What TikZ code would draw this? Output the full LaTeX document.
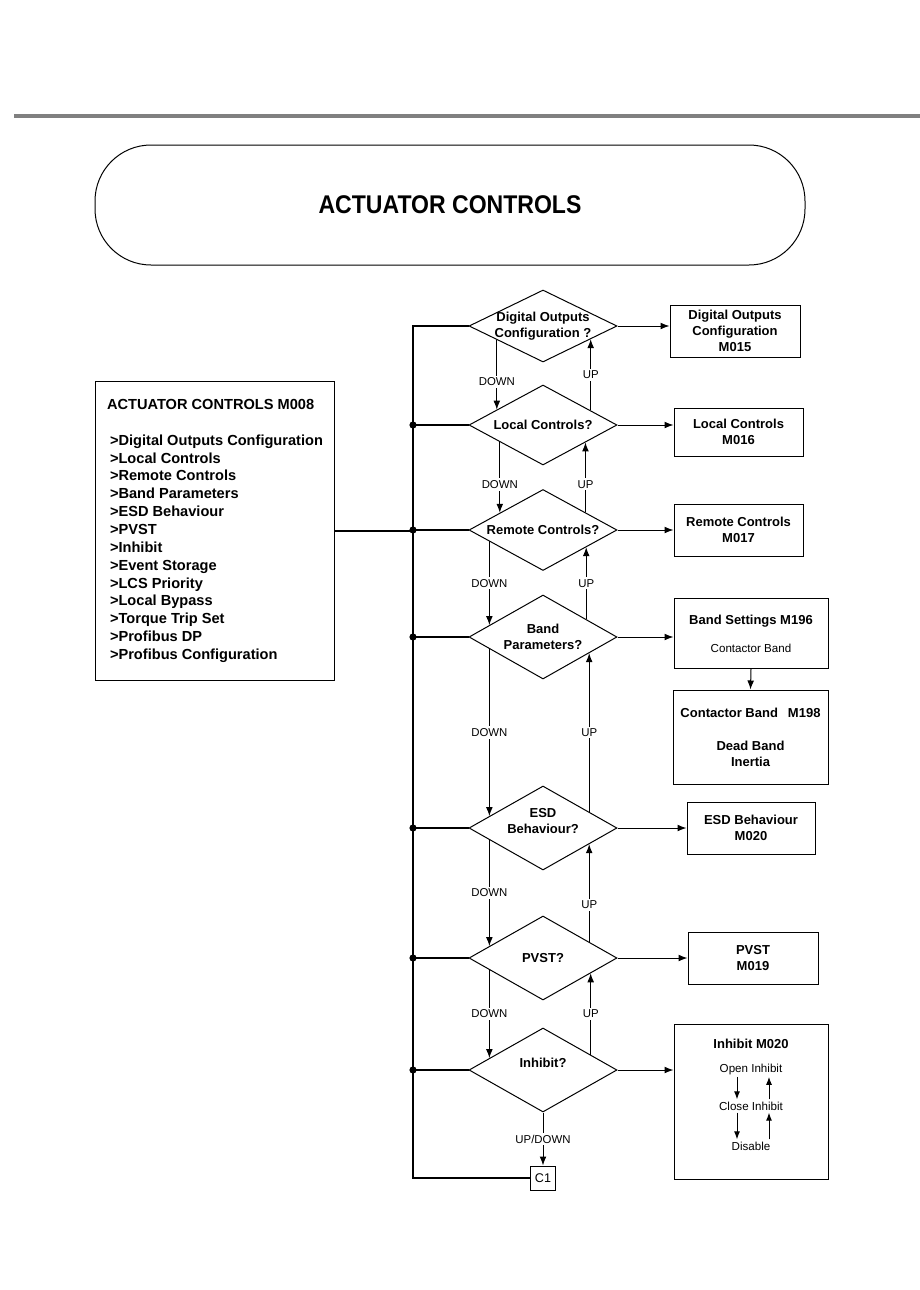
\documentclass[tikz,border=0pt]{standalone}
\usepackage{fontspec}
\setmainfont{Liberation Sans}
\usepackage{tikz, graphicx}
\usetikzlibrary{arrows.meta, shapes, calc}
\tikzstyle{line} = [draw, line width=0.5pt, -{Latex[length=4.5pt, width=3.4pt]}]

\begin{document}
\begin{tikzpicture}[x=0.5pt, y=-0.5pt, >={Latex[length=4pt, width=3pt]},
		decision/.style={draw, shape=diamond, inner sep=0pt, minimum width=74pt, minimum height=42pt, line width=0.5pt},
		dtext/.style={font=\fontsize{6.5}{8}\selectfont\bfseries, align=center},
		outbox/.style={draw, line width=0.5pt, align=center, inner sep=0pt, font=\fontsize{6.5}{8}\selectfont\bfseries},
		stext/.style={inner sep=1pt, font=\fontsize{5.8}{7}\selectfont},
		lbl/.style={fill=white, inner sep=1pt, font=\fontsize{5.7}{7}\selectfont},
		bus/.style={line width=0.8pt}]
	\useasboundingbox (0,0) rectangle (920,1290);
	\draw[line width=2pt, color=gray] (14,116) -- (920,116);
	\node[draw, line width=0.5pt, rounded corners=28pt, minimum width=355pt, minimum height=60pt] (title) at (450,205)
		{\scalebox{0.9}[1]{\fontsize{12.8}{14}\selectfont\bfseries ACTUATOR CONTROLS}};
	% Menue links
	\node[draw, line width=0.5pt, anchor=north west, minimum width=119.5pt, minimum height=149.5pt, align=left,
		font=\fontsize{7.3}{8.93}\selectfont\bfseries] (menu) at (95,381)
		{ACTUATOR CONTROLS M008\\[8.93pt]
		\hspace*{1.5pt}>Digital Outputs Configuration\\
		\hspace*{1.5pt}>Local Controls\\
		\hspace*{1.5pt}>Remote Controls\\
		\hspace*{1.5pt}>Band Parameters\\
		\hspace*{1.5pt}>ESD Behaviour\\
		\hspace*{1.5pt}>PVST\\
		\hspace*{1.5pt}>Inhibit\\
		\hspace*{1.5pt}>Event Storage\\
		\hspace*{1.5pt}>LCS Priority\\
		\hspace*{1.5pt}>Local Bypass\\
		\hspace*{1.5pt}>Torque Trip Set\\
		\hspace*{1.5pt}>Profibus DP\\
		\hspace*{1.5pt}>Profibus Configuration};
	% Abfragen
	\node[decision, minimum height=36pt, label={[dtext]center:{Digital Outputs\\Configuration ?}}] (d1) at (543,326) {};
	\node[decision, minimum height=40pt, label={[dtext]center:{Local Controls?}}] (d2) at (543,425) {};
	\node[decision, minimum height=40.5pt, label={[dtext]center:{Remote Controls?}}] (d3) at (543,530) {};
	\node[decision, label={[dtext]center:{Band\\Parameters?}}] (d4) at (543,637) {};
	\node[decision, label={[dtext, yshift=3.5pt]center:{ESD\\Behaviour?}}] (d5) at (543,828) {};
	\node[decision, label={[dtext]center:{PVST?}}] (d6) at (543,958) {};
	\node[decision, label={[dtext, yshift=3.5pt]center:{Inhibit?}}] (d7) at (543,1070) {};
	\node[draw, line width=0.5pt, minimum width=12.5pt, minimum height=12pt, inner sep=0pt, font=\fontsize{6.3}{7}\selectfont] (c1) at (543,1178) {C1};
	% Menues rechts
	\node[outbox, minimum width=65pt, minimum height=26pt] (o1) at (735,331) {Digital Outputs\\Configuration\\M015};
	\node[outbox, minimum width=64.5pt, minimum height=24pt] (o2) at (738.5,432) {Local Controls\\M016};
	\node[outbox, minimum width=64.5pt, minimum height=26pt] (o3) at (738.5,530) {Remote Controls\\M017};
	\node[outbox, minimum width=77pt, minimum height=35pt] (o4) at (751,633.5)
		{Band Settings M196\\[6pt]{\mdseries\fontsize{5.8}{7}\selectfont Contactor Band}};
	\node[outbox, minimum width=77.5pt, minimum height=47pt] (o5) at (750.5,737) {Contactor Band\hspace{5pt}M198\\[8.5pt]Dead Band\\Inertia};
	\node[outbox, minimum width=64pt, minimum height=26pt] (o6) at (751,828) {ESD Behaviour\\M020};
	\node[outbox, minimum width=65pt, minimum height=26pt] (o7) at (753,958) {PVST\\M019};
	\node[outbox, minimum width=77pt, minimum height=77.5pt] (o8) at (751,1101.5) {};
	\node[dtext] (inh) at (751,1044) {Inhibit M020};
	\node[stext] (open) at (751,1069) {Open Inhibit};
	\node[stext] (close) at (751,1106) {Close Inhibit};
	\node[stext] (disable) at (751,1146) {Disable};
	\draw[->, line width=0.5pt] ([xshift=-7pt]open.south) -- ([xshift=-7pt]close.north);
	\draw[->, line width=0.5pt] ([xshift=-7pt]close.south) -- ([xshift=-7pt]disable.north);
	\draw[->, line width=0.5pt] ([xshift=9pt]close.north) -- ([xshift=9pt]open.south);
	\draw[->, line width=0.5pt] ([xshift=9pt]disable.north) -- ([xshift=9pt]close.south);
	% Sammelleitung
	\coordinate (bus) at (413,0);
	\draw[bus] (c1.west) -| (bus |- d1.west) -- (d1.west);
	\draw[bus] (menu.east) -- (bus |- menu.east);
	\foreach \d in {d2,d3,d4,d5,d6,d7} {
		\draw[bus] (bus |- \d.west) -- (\d.west);
		\fill (bus |- \d.west) circle (1.8pt);
	}
	\foreach \d/\o in {d1/o1, d2/o2, d3/o3, d4/o4, d5/o6, d6/o7, d7/o8}
		\path[line] (\d.east) -- (\d.east -| \o.west);
	\path[line] (o4.south) -- (o5.north);
	% DOWN / UP
	\path[line] ($(d1.west)!.38!(d1.south)$) -- node[lbl, pos=.6] {DOWN} ($(d2.west)!.38!(d2.north)$);
	\path[line] ($(d2.west)!.42!(d2.south)$) -- node[lbl, pos=.6] {DOWN} ($(d3.west)!.42!(d3.north)$);
	\path[line] ($(d3.west)!.28!(d3.south)$) -- node[lbl] {DOWN} ($(d4.west)!.28!(d4.north)$);
	\path[line] ($(d4.west)!.28!(d4.south)$) -- node[lbl] {DOWN} ($(d5.west)!.28!(d5.north)$);
	\path[line] ($(d5.west)!.28!(d5.south)$) -- node[lbl] {DOWN} ($(d6.west)!.28!(d6.north)$);
	\path[line] ($(d6.west)!.28!(d6.south)$) -- node[lbl] {DOWN} ($(d7.west)!.28!(d7.north)$);
	\path[line] ($(d2.east)!.36!(d2.north)$) -- node[lbl] {UP} ($(d1.east)!.36!(d1.south)$);
	\path[line] ($(d3.east)!.43!(d3.north)$) -- node[lbl, pos=.4] {UP} ($(d2.east)!.43!(d2.south)$);
	\path[line] ($(d4.east)!.42!(d4.north)$) -- node[lbl] {UP} ($(d3.east)!.42!(d3.south)$);
	\path[line] ($(d5.east)!.38!(d5.north)$) -- node[lbl] {UP} ($(d4.east)!.38!(d4.south)$);
	\path[line] ($(d6.east)!.38!(d6.north)$) -- node[lbl, pos=.38] {UP} ($(d5.east)!.38!(d5.south)$);
	\path[line] ($(d7.east)!.36!(d7.north)$) -- node[lbl] {UP} ($(d6.east)!.36!(d6.south)$);
	\path[line] (d7.south) -- node[lbl] {UP/DOWN} (c1.north);
\end{tikzpicture}
\end{document}
